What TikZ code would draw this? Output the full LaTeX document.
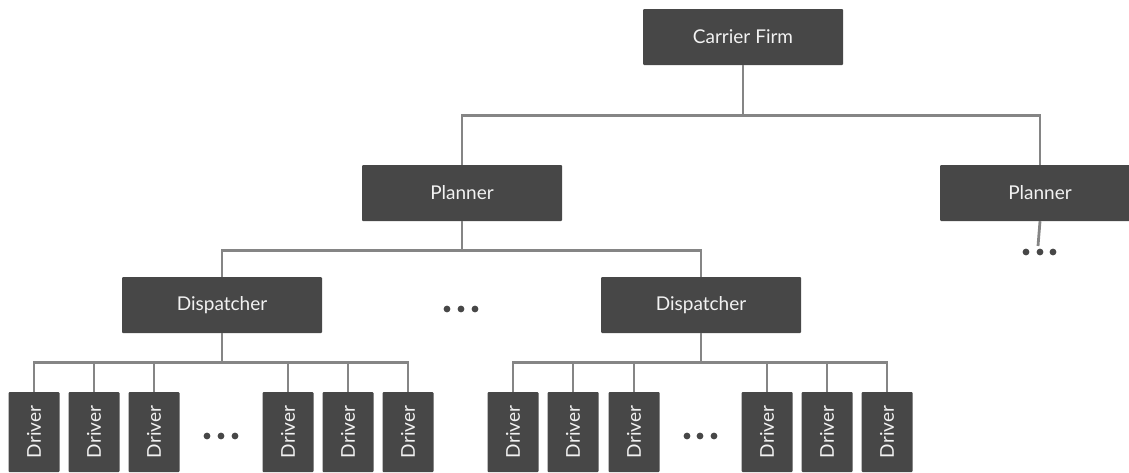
\documentclass[tikz,border=0pt]{standalone}
\usepackage{fontspec}
\setmainfont{Lato}
\definecolor{boxgray}{HTML}{474747}
\definecolor{linegray}{HTML}{858585}
\definecolor{txtwhite}{HTML}{F2F2F2}
\tikzset{
  box/.style={fill=boxgray, text=txtwhite, minimum width=200pt, minimum height=56pt, inner sep=0pt, rounded corners=1pt, font=\fontsize{19}{22}\selectfont},
  drv/.style={fill=boxgray, text=txtwhite, minimum width=51pt, minimum height=80pt, inner sep=0pt, rounded corners=1pt, font=\fontsize{19}{22}\selectfont},
  conn/.style={draw=linegray, line width=2.8pt},
  dot/.style={fill=boxgray}
}
\begin{document}
\begin{tikzpicture}[x=1pt,y=-1pt]
\useasboundingbox (0,0) rectangle (1129,472);
\clip (0,0) rectangle (1129,472);
% boxes
\node[box] (firm) at (743,37) {Carrier Firm};
\node[box] (pl1) at (462,193) {Planner};
\node[box] (pl2) at (1040,193) {Planner};
\node[box] (ds1) at (222,305) {Dispatcher};
\node[box] (ds2) at (701,305) {Dispatcher};
% drivers
\foreach \n/\x in {a1/34,a2/94,a3/154,a4/288,a5/348,a6/408,b1/513,b2/573,b3/634,b4/767,b5/827,b6/887}
  \node[drv] (\n) at (\x,432) {\rotatebox{90}{Driver}};
% connectors
\draw[conn] (firm.south) -- ([yshift=-50pt]firm.south) -| (pl1.north);
\draw[conn] ([yshift=-50pt]firm.south) -| (pl2.north);
\draw[conn] (pl1.south) -- ([yshift=-29pt]pl1.south) -| (ds1.north);
\draw[conn] ([yshift=-29pt]pl1.south) -| (ds2.north);
\foreach \n in {a1,a2,a3,a4,a5,a6}
  \draw[conn] (ds1.south) -- ([yshift=-29pt]ds1.south) -| (\n.north);
\foreach \n in {b1,b2,b3,b4,b5,b6}
  \draw[conn] (ds2.south) -- ([yshift=-29pt]ds2.south) -| (\n.north);
\coordinate (pl2end) at (1038,246);
\draw[conn] (pl2.south) -- (pl2end);
% dots
\foreach \x/\y in {1026/252,1040/252,1053/252, 447/309,461/309,475/309, 207/436,221/436,235/436, 687/436,700/436,714/436}
  \fill[dot] (\x,\y) circle (3.4pt);
\end{tikzpicture}
\end{document}
